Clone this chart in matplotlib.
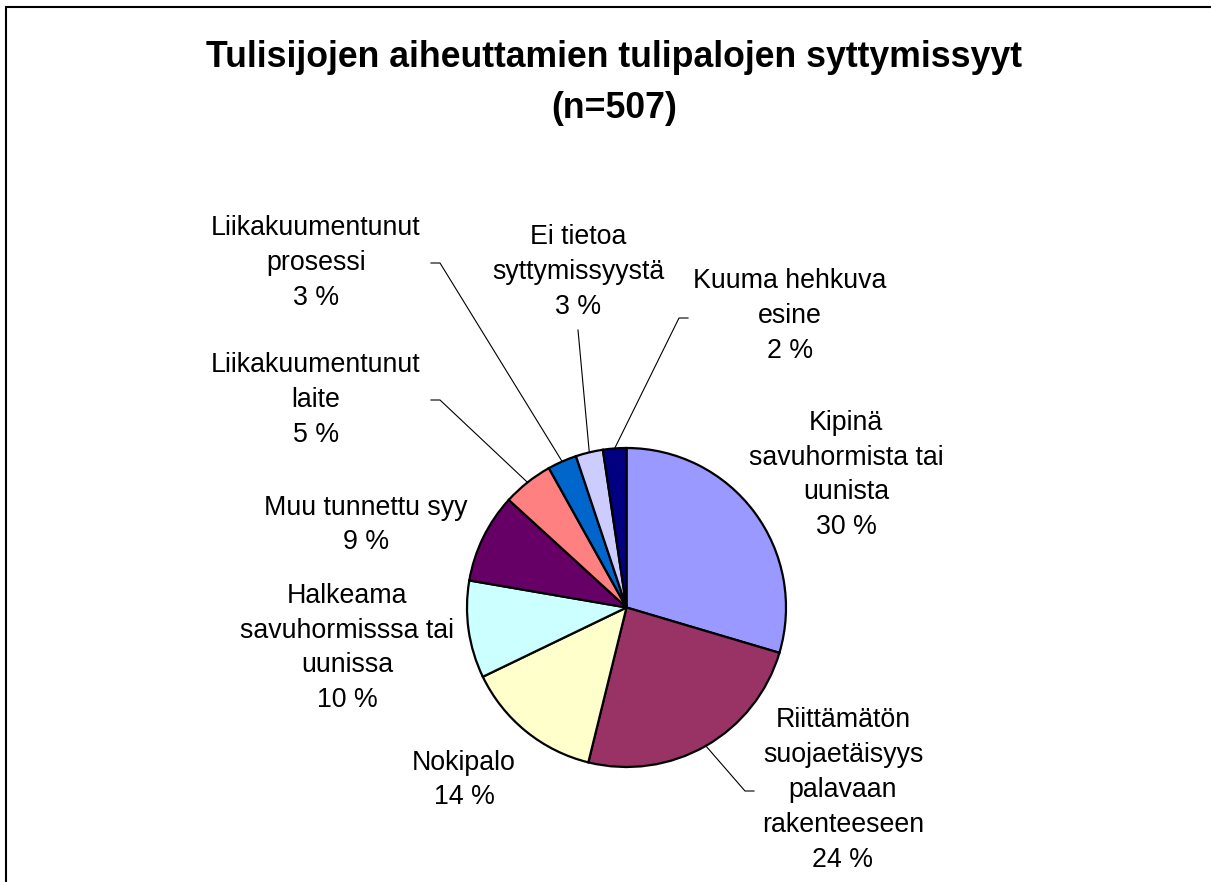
#Pie chart of the causes of fires started by fireplaces (n=507)
import matplotlib.pyplot as plt
import numpy as np

plt.rcParams['font.family'] = ['Liberation Sans', 'DejaVu Sans']

#Figure size in pixels
W = 1211
H = 882

#Data: number of fires per cause, clockwise from the top
labels = ['Kipinä\nsavuhormista tai\nuunista',
          'Riittämätön\nsuojaetäisyys\npalavaan\nrakenteeseen',
          'Nokipalo',
          'Halkeama\nsavuhormisssa tai\nuunissa',
          'Muu tunnettu syy',
          'Liikakuumentunut\nlaite',
          'Liikakuumentunut\nprosessi',
          'Ei tietoa\nsyttymissyystä',
          'Kuuma hehkuva\nesine']
counts = [150, 123, 71, 50, 46, 26, 15, 14, 12]
colors = ['#9999FF', '#993366', '#FFFFCC', '#CCFFFF', '#660066',
          '#FF8080', '#0066CC', '#CCCCFF', '#000080']

#Where the labels go (image pixels, y down)
label_x = [846, 843, 464, 347, 366, 316, 316, 578, 790]
label_y = [475, 790, 780, 648, 525, 400, 263, 272, 316]
#Leader lines: end point near the label (None = no leader), and short horizontal tail
leader_end = [None, (745, 791), None, None, None, (440, 400), (440, 263), (578, 330), (679, 318)]
leader_tail = [0, 9, 0, 0, 0, -9, -9, 0, 9]

cx, cy, r = 626.5, 607.5, 159.5

fig = plt.figure(figsize=(W / 100, H / 100), dpi=100)
ax = fig.add_axes([0, 0, 1, 1])

#Chart border (only top and left are visible)
ax.plot([6, 6, W], [0, H - 7, H - 7], color='black', lw=1.5, solid_joinstyle='miter')

wedges, _ = ax.pie(counts, colors=colors, startangle=90, counterclock=False,
                   center=(cx, H - cy), radius=r, frame=True,
                   wedgeprops=dict(edgecolor='black', linewidth=1.6))
ax.set_xlim(0, W)
ax.set_ylim(0, H)
ax.set_aspect('auto')
ax.axis('off')

total = sum(counts)
for i, w in enumerate(wedges):
    pct = int(round(counts[i] / total * 100))
    ax.text(label_x[i], H - label_y[i], labels[i] + '\n' + str(pct) + ' %',
            ha='center', va='center', fontsize=19.3, linespacing=1.44)
    if leader_end[i] is not None:
        mid = np.deg2rad((w.theta1 + w.theta2) / 2)
        x0 = cx + r * np.cos(mid)
        y0 = (H - cy) + r * np.sin(mid)
        x1, y1 = leader_end[i]
        xs = [x0, x1, x1 + leader_tail[i]]
        ys = [y0, H - y1, H - y1]
        ax.plot(xs, ys, color='black', lw=0.8)

ax.text(614, H - 83, 'Tulisijojen aiheuttamien tulipalojen syttymissyyt\n(n=507)',
        ha='center', va='center', fontsize=25.7, fontweight='bold', linespacing=1.6)

fig.savefig('out.png', dpi=100)
